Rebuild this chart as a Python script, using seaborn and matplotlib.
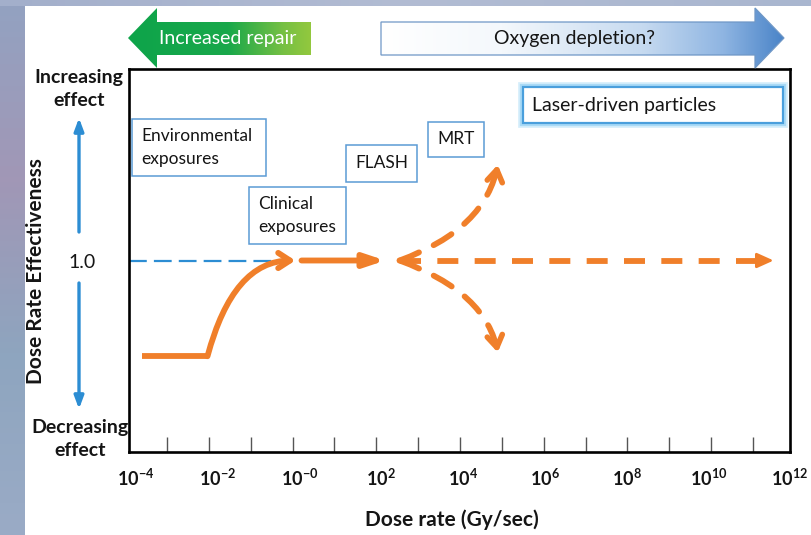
import numpy as np
import matplotlib
matplotlib.use("Agg")
import matplotlib.pyplot as plt
import seaborn as sns
from matplotlib.colors import LinearSegmentedColormap
from matplotlib.patches import Polygon, Rectangle

# x = log10(dose rate in Gy/sec), y = dose rate effectiveness (1.0 = reference)
decade_pos = [-4, -2, 0, 2, 4, 6, 8, 10, 12]
decade_exp = ["-4", "-2", "-0", "2", "4", "6", "8", "10", "12"]
minor_ticks = [-3.24, -2.22, -1.19, -0.17, 0.85, 1.88, 2.90, 3.93,
               4.96, 5.98, 7.00, 8.02, 9.04, 10.07, 11.10]

# reference level (blue dashed)
ref_x = [-4.17, -0.55]
ref_y = [1.0, 1.0]

# environmental plateau and rise to clinical dose rates
env_x = [-3.85, -2.25]
env_y = [0.5, 0.5]
rise_x = [-2.25, -0.1]
rise_y = [0.5, 1.0]

# FLASH
flash_x = [0.05, 2.1]
flash_y = [1.0, 1.0]

# very high dose rates: same / increased / decreased effect
branch_x0, branch_y0 = 2.45, 1.0
branch_end_x = [11.6, 4.85, 4.85]
branch_end_y = [1.0, 1.5, 0.52]

ORANGE = "#F07F2A"
BLUE = "#2C8DD3"
BOX = "#5B9BD5"
INK = "#151515"

sns.set_theme(style="white")
plt.rcParams["font.family"] = ["Lato", "DejaVu Sans"]
plt.rcParams["mathtext.fontset"] = "custom"
plt.rcParams["mathtext.rm"] = "Lato:bold"
plt.rcParams["mathtext.it"] = "Lato:bold"
plt.rcParams["mathtext.bf"] = "Lato:bold"
plt.rcParams["mathtext.default"] = "rm"

W, H = 812, 535
fig = plt.figure(figsize=(W / 100, H / 100), dpi=100, facecolor="white")

# slide background strips
bg = fig.add_axes([0, 0, 1, 1])
bg.set_axis_off()
side = LinearSegmentedColormap.from_list("side", ["#93A2C1", "#A197B6", "#8EA5BF", "#9AABC6"])
topc = LinearSegmentedColormap.from_list("topc", ["#A3AFCB", "#B2BCD3", "#A9B6CF"])
bg.imshow(np.linspace(0, 1, 100).reshape(-1, 1), extent=(0, 25, H, 0), cmap=side, aspect="auto")
bg.imshow(np.linspace(0, 1, 100).reshape(1, -1), extent=(0, W, 6, 0), cmap=topc, aspect="auto")
bg.set_xlim(0, W)
bg.set_ylim(H, 0)

# main axes
L, R, T, B = 129, 790, 69, 452
ax = fig.add_axes([L / W, 1 - B / H, (R - L) / W, (B - T) / H])

sns.lineplot(x=ref_x, y=ref_y, ax=ax, color=BLUE, lw=1.6, linestyle=(0, (8, 3.2)))
sns.lineplot(x=env_x, y=env_y, ax=ax, color=ORANGE, lw=4.2, solid_capstyle="butt")

ax.annotate("", xy=(rise_x[1], rise_y[1]), xytext=(rise_x[0], rise_y[0]),
            arrowprops=dict(arrowstyle="->,head_length=0.85,head_width=0.55", color=ORANGE, lw=4.2,
                            connectionstyle="angle3,angleA=75,angleB=0",
                            shrinkA=0, shrinkB=0, mutation_scale=10))
ax.annotate("", xy=(flash_x[1], flash_y[1]), xytext=(flash_x[0], flash_y[0]),
            arrowprops=dict(arrowstyle="-|>,head_length=1.2,head_width=0.4", color=ORANGE, lw=4.2,
                            shrinkA=0, shrinkB=0, mutation_scale=10))

# flat dashed branch
sns.lineplot(x=[branch_x0, branch_end_x[0] - 0.2], y=[branch_y0, branch_end_y[0]], ax=ax,
             color=ORANGE, lw=4.2, linestyle=(0, (3.6, 2.8)))
ax.annotate("", xy=(branch_end_x[0], branch_end_y[0]), xytext=(-10, 0), textcoords="offset points",
            arrowprops=dict(arrowstyle="-|>,head_length=1.0,head_width=0.45", color=ORANGE, lw=2,
                            shrinkA=0, shrinkB=0, mutation_scale=10))

# curved dashed branches with open heads
for ex, ey, a_a, a_b in [(branch_end_x[1], branch_end_y[1], 20, 80),
                         (branch_end_x[2], branch_end_y[2], -20, -80)]:
    ax.annotate("", xy=(ex, ey), xytext=(branch_x0, branch_y0),
                arrowprops=dict(arrowstyle="-", color=ORANGE, lw=4.2, linestyle=(0, (3.6, 2.8)),
                                connectionstyle=f"angle3,angleA={a_a},angleB={a_b}",
                                shrinkA=0, shrinkB=0))
    t = np.deg2rad(a_b)
    ax.annotate("", xy=(ex, ey), xytext=(-8 * np.cos(t), -8 * np.sin(t)), textcoords="offset points",
                arrowprops=dict(arrowstyle="->,head_length=0.85,head_width=0.55", color=ORANGE, lw=4.0,
                                shrinkA=0, shrinkB=0, mutation_scale=10))

ax.set_xlim(-4.17, 12)
ax.set_ylim(0, 2)
ax.set_xticks(decade_pos, [f"$10^{{{e}}}$" for e in decade_exp])
ax.set_xticks(minor_ticks, minor=True)
ax.tick_params(axis="x", which="major", length=0, pad=11, labelsize=13, labelcolor=INK)
ax.tick_params(axis="x", which="minor", bottom=True, direction="in", length=11, width=1, color="#555555")
ax.set_yticks([1.0], ["1.0"])
ax.tick_params(axis="y", length=0, pad=24, labelsize=14, labelcolor=INK)
for sp in ax.spines.values():
    sp.set_visible(True)
    sp.set_color("black")
    sp.set_linewidth(1.9)

ax.set_xlabel("Dose rate (Gy/sec)", fontsize=15, fontweight="bold", color=INK)
ax.xaxis.set_label_coords(0.489, -0.15)
ax.set_ylabel("Dose Rate Effectiveness", fontsize=15, fontweight="bold", color=INK)
ax.yaxis.set_label_coords(-0.1255, 0.473)

# overlay in pixel coordinates for the annotations
top = fig.add_axes([0, 0, 1, 1])
top.set_axis_off()
top.patch.set_visible(False)

# "Increased repair" arrow (green gradient)
green = LinearSegmentedColormap.from_list("green", [(0, "#0EA44B"), (0.55, "#19A84A"),
                                                    (0.85, "#76C043"), (1, "#93C83E")])
gpoly = Polygon([(128, 38), (157, 8), (157, 22), (311, 22), (311, 55), (157, 55), (157, 68)],
                closed=True, fc="none", ec="none")
top.add_patch(gpoly)
im = top.imshow(np.linspace(0, 1, 256).reshape(1, -1), extent=(128, 311, 68, 8), cmap=green, aspect="auto")
im.set_clip_path(gpoly)
top.text(228, 38.5, "Increased repair", color="white", fontsize=14, ha="center", va="center")

# "Oxygen depletion?" arrow (white to blue gradient)
blue = LinearSegmentedColormap.from_list("blue", [(0, "#FFFFFF"), (0.3, "#F4F8FC"), (0.65, "#C6DAF0"),
                                                  (0.85, "#8FB5E2"), (1, "#4A84C8")])
bpoly = Polygon([(381, 22), (755, 22), (755, 8), (784, 38), (755, 68), (755, 55), (381, 55)],
                closed=True, fc="none", ec="none")
top.add_patch(bpoly)
im = top.imshow(np.linspace(0, 1, 256).reshape(1, -1), extent=(381, 784, 68, 8), cmap=blue, aspect="auto")
im.set_clip_path(bpoly)
top.add_patch(Polygon(bpoly.get_xy(), closed=True, fill=False, ec="#6F97C6", lw=0.9))
top.text(575, 38.5, "Oxygen depletion?", color=INK, fontsize=14, ha="center", va="center")

# side labels and arrows
top.text(79, 89, "Increasing\neffect", ha="center", va="center", fontsize=14,
         fontweight="bold", color=INK, linespacing=1.5)
top.text(80, 439, "Decreasing\neffect", ha="center", va="center", fontsize=14,
         fontweight="bold", color=INK, linespacing=1.5)
top.annotate("", xy=(79, 118), xytext=(79, 232),
             arrowprops=dict(arrowstyle="-|>,head_length=0.75,head_width=0.28", color=BLUE, lw=2.4,
                             shrinkA=0, shrinkB=0, mutation_scale=10))
top.annotate("", xy=(79, 409), xytext=(79, 283),
             arrowprops=dict(arrowstyle="-|>,head_length=0.75,head_width=0.28", color=BLUE, lw=2.4,
                             shrinkA=0, shrinkB=0, mutation_scale=10))

# labelled boxes
boxes = [
    ((132, 119, 134, 57), "Environmental\nexposures", 141, "left"),
    ((249, 187, 97, 57), "Clinical\nexposures", 258, "left"),
    ((346, 145, 71, 37), "FLASH", 381.5, "center"),
    ((428, 122, 56, 35), "MRT", 456, "center"),
]
for (x0, y0, w, h), label, tx, ha in boxes:
    top.add_patch(Rectangle((x0, y0), w, h, fc="white", ec=BOX, lw=1.1))
    top.text(tx, y0 + h / 2, label, ha=ha, va="center", fontsize=12.5, color=INK, linespacing=1.55)

for lw, col in [(7, "#D6EEFB"), (4.5, "#A9DAF6"), (1.6, "#4A9FDC")]:
    top.add_patch(Rectangle((523, 87), 260, 36, fc="white", ec=col, lw=lw))
top.text(532, 105, "Laser-driven particles", ha="left", va="center", fontsize=14, color=INK)

top.set_xlim(0, W)
top.set_ylim(H, 0)

fig.savefig("out.png", dpi=100)
